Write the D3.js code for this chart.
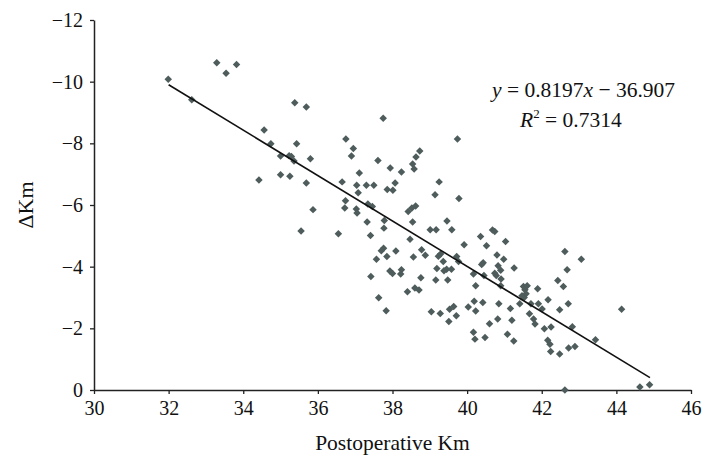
<!DOCTYPE html>
<html>
<head>
<meta charset="utf-8">
<script src="https://cdn.jsdelivr.net/npm/d3@7"></script>
<style>
  html, body { margin: 0; padding: 0; background: #fff; }
  svg { display: block; font-family: "Liberation Serif", "DejaVu Serif", serif; }
</style>
</head>
<body>
<svg id="chart" width="714" height="468"></svg>
<script>
// Postoperative Km (x) vs ΔKm (y)
const postKm = [
  31.99, 32.62, 33.29, 33.54, 33.82, 35.38, 35.69, 37.75, 34.56, 34.74,
  35.43, 36.75, 36.95, 36.90, 35.00, 35.23, 35.29, 35.36, 35.80, 39.74,
  38.73, 38.63, 38.54, 38.58, 37.61, 37.94, 38.24, 37.11, 39.25, 34.42,
  35.00, 35.25, 35.69, 36.65, 37.04, 37.30, 37.50, 38.07, 37.08, 37.86,
  38.01, 39.14, 39.78, 36.74, 36.72, 35.87, 37.34, 37.46, 37.03, 37.05,
  38.42, 38.52, 38.62, 38.54, 37.32, 37.78, 37.77, 39.01, 39.17, 39.46,
  39.59, 35.55, 36.55, 37.41, 38.47, 39.92, 37.76, 37.70, 38.09, 37.57,
  37.85, 38.56, 38.78, 38.88, 39.23, 39.29, 39.36, 39.19, 39.16, 39.45,
  39.58, 39.38, 39.72, 39.77, 39.48, 37.42, 37.93, 38.00, 38.24, 38.22,
  38.76, 38.40, 38.60, 38.71, 37.63, 37.83, 39.04, 39.28, 39.51, 39.53,
  39.64, 39.71, 40.03, 40.36, 40.68, 40.74, 41.03, 40.52, 40.80, 40.98,
  40.43, 40.39, 40.83, 40.90, 41.26, 40.17, 40.45, 40.74, 40.78, 40.91,
  40.23, 40.90, 42.62, 43.06, 42.68, 42.43, 42.58, 41.51, 41.61, 41.55,
  41.47, 41.53, 41.58, 41.89, 41.41, 41.71, 41.91, 42.01, 42.17, 42.71,
  42.48, 40.23, 40.42, 40.19, 40.85, 41.16, 41.67, 41.78, 41.82, 40.60,
  40.82, 41.20, 42.07, 42.25, 42.82, 44.14, 43.44, 40.17, 40.21, 40.48,
  41.08, 41.25, 42.16, 42.22, 42.24, 42.48, 42.72, 42.89, 42.62, 44.63,
  44.89
];
const deltaKm = [
  -10.08, -9.41, -10.61, -10.27, -10.56, -9.32, -9.18, -8.81, -8.43, -7.99,
  -7.99, -8.14, -7.83, -7.59, -7.59, -7.60, -7.57, -7.43, -7.50, -8.14,
  -7.75, -7.56, -7.33, -7.17, -7.44, -7.20, -7.07, -7.04, -6.75, -6.81,
  -6.98, -6.93, -6.71, -6.75, -6.64, -6.64, -6.64, -6.71, -6.40, -6.50,
  -6.48, -6.33, -6.21, -6.14, -5.90, -5.85, -6.03, -5.95, -5.87, -5.74,
  -5.79, -5.90, -5.97, -5.45, -5.45, -5.50, -5.25, -5.20, -5.20, -5.48,
  -5.20, -5.16, -5.07, -5.01, -4.89, -4.71, -4.60, -4.52, -4.51, -4.24,
  -4.33, -4.31, -4.55, -4.37, -4.34, -4.41, -4.17, -3.94, -3.57, -3.92,
  -3.92, -3.87, -4.33, -4.17, -3.57, -3.68, -3.86, -3.78, -3.90, -3.76,
  -3.64, -3.19, -3.31, -3.24, -2.99, -2.57, -2.54, -2.48, -2.22, -2.62,
  -2.71, -2.41, -2.69, -4.98, -5.19, -5.14, -4.82, -4.68, -4.38, -4.24,
  -4.13, -4.07, -4.03, -3.88, -3.96, -3.76, -3.71, -3.79, -3.71, -3.60,
  -3.38, -3.38, -4.49, -4.24, -3.90, -3.55, -3.36, -3.36, -3.38, -3.25,
  -3.06, -3.00, -3.12, -3.28, -2.80, -2.80, -2.80, -2.63, -2.93, -2.80,
  -2.60, -2.56, -2.84, -2.88, -2.80, -2.64, -2.47, -2.30, -2.14, -2.15,
  -2.30, -2.26, -1.99, -2.04, -2.05, -2.62, -1.63, -1.87, -1.65, -1.70,
  -1.81, -1.59, -1.61, -1.48, -1.25, -1.17, -1.36, -1.41, 0.00, -0.10,
  -0.17
];

// trend line as drawn in the picture
const trendX = [32.0, 44.9];
const trendY = [-9.9, -0.4];

const xTicks = [30, 32, 34, 36, 38, 40, 42, 44, 46];
const yTicks = [0, -2, -4, -6, -8, -10, -12];

const margin = { top: 20, right: 23, bottom: 78, left: 94 };
const cwidth = 714, cheight = 468;
const width = cwidth - margin.left - margin.right;
const height = cheight - margin.top - margin.bottom;

const svg = d3.select("#chart");
const g = svg.append("g").attr("transform", `translate(${margin.left},${margin.top})`);

const x = d3.scaleLinear().domain([30, 46]).range([0, width]);
// y is inverted: 0 at the bottom, -12 at the top
const y = d3.scaleLinear().domain([0, -12]).range([height, 0]);

const minus = (v) => (v < 0 ? "\u2212" + Math.abs(v) : String(v));

// X axis
g.append("g")
  .attr("class", "xAxis")
  .attr("transform", `translate(0,${height})`)
  .call(d3.axisBottom(x).tickValues(xTicks).tickSizeOuter(0).tickSizeInner(4).tickPadding(7).tickFormat(d3.format("d")))
  .call((a) => a.select(".domain").attr("stroke", "#222").attr("stroke-width", 1.5))
  .call((a) => a.selectAll(".tick line").attr("stroke", "#222").attr("stroke-width", 1.3))
  .call((a) => a.selectAll("text").attr("font-size", 20).attr("fill", "#111").attr("font-family", "Liberation Serif"));

// Y axis
g.append("g")
  .attr("class", "yAxis")
  .call(d3.axisLeft(y).tickValues(yTicks).tickSizeOuter(0).tickSizeInner(4).tickPadding(7).tickFormat(minus))
  .call((a) => a.select(".domain").attr("stroke", "#222").attr("stroke-width", 1.5))
  .call((a) => a.selectAll(".tick line").attr("stroke", "#222").attr("stroke-width", 1.3))
  .call((a) => a.selectAll("text").attr("font-size", 20).attr("fill", "#111").attr("font-family", "Liberation Serif"));

// points (diamonds)
const pts = postKm.map((v, i) => ({ x: v, y: deltaKm[i] }));
g.append("g")
  .attr("class", "points")
  .selectAll("path")
  .data(pts)
  .join("path")
  .attr("d", d3.symbol(d3.symbolSquare, 28))
  .attr("transform", (d) => `translate(${x(d.x)},${y(d.y)}) rotate(45)`)
  .attr("fill", "#4e5c5c");

// trend line
g.append("path")
  .datum(trendX.map((v, i) => ({ x: v, y: trendY[i] })))
  .attr("fill", "none")
  .attr("stroke", "#111")
  .attr("stroke-width", 1.6)
  .attr("d", d3.line().x((d) => x(d.x)).y((d) => y(d.y)));

// equation labels
const eq = svg.append("text")
  .attr("x", 492)
  .attr("y", 97)
  .attr("font-size", 21.5)
  .attr("fill", "#111");
eq.append("tspan").attr("font-style", "italic").text("y");
eq.append("tspan").text(" = 0.8197");
eq.append("tspan").attr("font-style", "italic").text("x");
eq.append("tspan").text(" \u2212 36.907");

const r2 = svg.append("text")
  .attr("x", 520)
  .attr("y", 127)
  .attr("font-size", 21.5)
  .attr("fill", "#111");
r2.append("tspan").attr("font-style", "italic").text("R");
r2.append("tspan").attr("font-size", 13).attr("dy", -9).text("2");
r2.append("tspan").attr("dy", 9).text(" = 0.7314");

// axis titles
svg.append("text")
  .attr("x", margin.left + width / 2)
  .attr("y", 450)
  .attr("text-anchor", "middle")
  .attr("font-size", 21.5)
  .attr("fill", "#111")
  .text("Postoperative Km");

svg.append("text")
  .attr("transform", `translate(33,${margin.top + height / 2}) rotate(-90)`)
  .attr("text-anchor", "middle")
  .attr("font-size", 22)
  .attr("fill", "#111")
  .text("\u0394Km");
</script>
</body>
</html>
